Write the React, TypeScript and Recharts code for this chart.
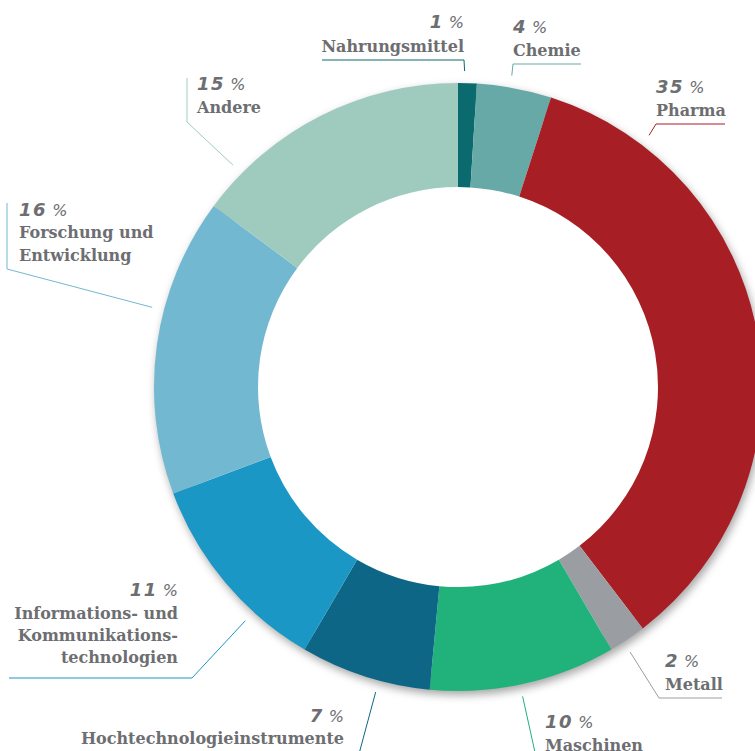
import React from 'react';
import { PieChart, Pie, Cell } from 'recharts';

const categories = [
  'Nahrungsmittel',
  'Chemie',
  'Pharma',
  'Metall',
  'Maschinen',
  'Hochtechnologieinstrumente',
  'Informations- und Kommunikationstechnologien',
  'Forschung und Entwicklung',
  'Andere',
];
const values = [1, 4, 35, 2, 10, 7, 11, 16, 15];
const labelLines = [
  ['Nahrungsmittel'],
  ['Chemie'],
  ['Pharma'],
  ['Metall'],
  ['Maschinen'],
  ['Hochtechnologieinstrumente'],
  ['Informations- und', 'Kommunikations-', 'technologien'],
  ['Forschung und', 'Entwicklung'],
  ['Andere'],
];
const colors = ['#0b6a6e', '#67a9a6', '#a81e25', '#9a9ea3', '#20b27a', '#0e6687', '#1b97c5', '#72b8d1', '#9fcbbf'];

// label layout (positions only)
type Layout = { x: number; anchor: 'start' | 'end'; pctY: number; y0: number; lh: number; path: number[][]; angle: number };
const layout: Layout[] = [
  { x: 464, anchor: 'end', pctY: 28, y0: 52, lh: 23, path: [[322, 60], [464, 60]], angle: 1.2 },
  { x: 513, anchor: 'start', pctY: 33, y0: 56, lh: 23, path: [[581, 64], [513, 64]], angle: 9.8 },
  { x: 656, anchor: 'start', pctY: 93, y0: 116, lh: 23, path: [[725, 124], [656, 124]], angle: 37.2 },
  { x: 665, anchor: 'start', pctY: 667, y0: 690, lh: 23, path: [[722, 698], [659, 698]], angle: 147 },
  { x: 545, anchor: 'start', pctY: 728, y0: 751, lh: 23, path: [[540, 775]], angle: 168.2 },
  { x: 344, anchor: 'end', pctY: 722, y0: 744, lh: 23, path: [[356, 765]], angle: 195.1 },
  { x: 178, anchor: 'end', pctY: 596, y0: 619, lh: 22, path: [[9, 678], [192, 678]], angle: 222.3 },
  { x: 19, anchor: 'start', pctY: 216, y0: 238, lh: 22.5, path: [[7, 203], [7, 269]], angle: 284.6 },
  { x: 197, anchor: 'start', pctY: 90, y0: 113, lh: 23, path: [[187, 78], [187, 122]], angle: 314.6 },
];

const data = categories.map((name, i) => ({ name, value: values[i] }));
const shadowData = [{ name: 'shadow', value: 1 }];

const TEXT = '#6d6e71';

const renderLabel = (props: any) => {
  const { cx, cy, outerRadius, index } = props;
  const l = layout[index];
  const r = outerRadius + 12;
  const a = (l.angle * Math.PI) / 180;
  const ax = cx + r * Math.sin(a);
  const ay = cy - r * Math.cos(a);
  const pts = [...l.path, [ax, ay]].map((p) => p.join(',')).join(' ');
  return (
    <g key={`lbl-${index}`}>
      <polyline points={pts} fill="none" stroke={colors[index]} strokeWidth={1} />
      <text x={l.x} y={l.pctY} textAnchor={l.anchor} fill={TEXT} fontFamily="DejaVu Sans" fontStyle="italic">
        <tspan fontWeight={900} fontSize={18} letterSpacing={1.5}>{values[index]}</tspan>
        <tspan fontWeight={400} fontSize={16}>{' %'}</tspan>
      </text>
      {labelLines[index].map((t, j) => (
        <text
          key={j}
          x={l.x}
          y={l.y0 + j * l.lh}
          textAnchor={l.anchor}
          fill={TEXT}
          fontFamily="DejaVu Serif"
          fontWeight={700}
          fontSize={16}
        >
          {t}
        </text>
      ))}
    </g>
  );
};

export default function App() {
  return (
    <div style={{ position: 'absolute', left: 0, top: 0, width: 755, height: 751, background: '#fff' }}>
      <PieChart width={755} height={751} margin={{ top: 0, right: 0, bottom: 0, left: 0 }}>
        <defs>
          <filter id="ringShadow" x="-20%" y="-20%" width="140%" height="140%">
            <feGaussianBlur stdDeviation="4" />
          </filter>
        </defs>
        <Pie
          data={shadowData}
          dataKey="value"
          cx={460}
          cy={391}
          innerRadius={284}
          outerRadius={304}
          startAngle={90}
          endAngle={-270}
          stroke="none"
          isAnimationActive={false}
          legendType="none"
        >
          <Cell fill="#000" fillOpacity={0.35} filter="url(#ringShadow)" />
        </Pie>
        <Pie
          data={data}
          dataKey="value"
          nameKey="name"
          cx={458}
          cy={387}
          innerRadius={200}
          outerRadius={304}
          startAngle={90}
          endAngle={-270}
          stroke="none"
          isAnimationActive={false}
          label={renderLabel}
          labelLine={false}
        >
          {data.map((d, i) => (
            <Cell key={d.name} fill={colors[i]} />
          ))}
        </Pie>
      </PieChart>
    </div>
  );
}
